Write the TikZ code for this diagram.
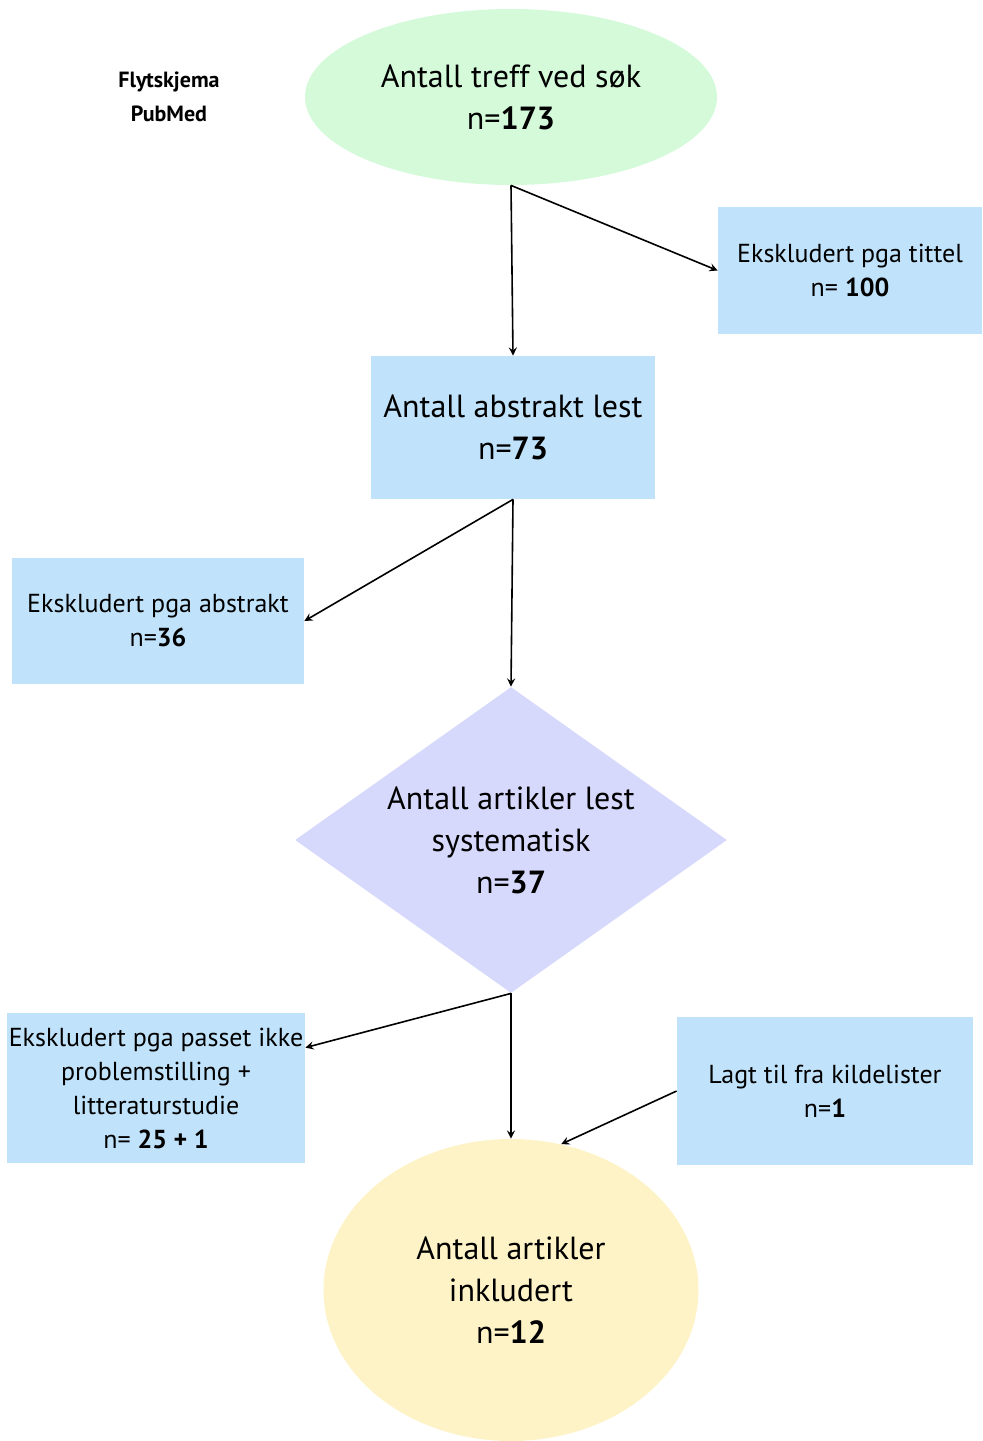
\documentclass[tikz,border=0pt]{standalone}
\usepackage{fontspec}
\setmainfont{PT Sans}
\usetikzlibrary{shapes.geometric,positioning,calc}
\definecolor{hitgreen}{HTML}{D4FAD9}
\definecolor{exblue}{HTML}{C0E3FB}
\definecolor{readviolet}{HTML}{D6D9FC}
\definecolor{inclyellow}{HTML}{FEF3C7}

\begin{document}
\begin{tikzpicture}[
    x=0.5pt, y=-0.5pt,
    big/.style={font=\fontsize{16}{21}\selectfont, align=center},
    small/.style={font=\fontsize{13}{17}\selectfont, align=center},
    exbox/.style={small, rectangle, fill=exblue, inner sep=0pt},
    arr/.style={-stealth, line width=0.8pt}
  ]
  \useasboundingbox (0,0) rectangle (982,1441);
  \node[font=\bfseries\fontsize{11}{17}\selectfont, align=center] (title) at (169,97) {Flytskjema\\PubMed};
  \node[big, ellipse, fill=hitgreen, minimum width=206pt, minimum height=88pt, inner sep=0pt] (hits) at (511,97) {Antall treff ved søk\\n=\textbf{173}};
  \node[exbox, minimum width=132pt, minimum height=63.5pt] (extitle) at (850,270.5) {Ekskludert pga tittel\\n= \textbf{100}};
  \node[big, rectangle, fill=exblue, minimum width=142pt, minimum height=71.5pt, inner sep=0pt] (abs) at (513,427.5) {Antall abstrakt lest\\n=\textbf{73}};
  \node[exbox, minimum width=146pt, minimum height=63pt] (exabs) at (158,621) {Ekskludert pga abstrakt\\n=\textbf{36}};
  \node[big, diamond, aspect=1.41, fill=readviolet, minimum width=216pt, minimum height=153pt, inner sep=0pt] (art) at (511,840) {Antall artikler lest\\systematisk\\n=\textbf{37}};
  \node[exbox, minimum width=149pt, minimum height=75pt] (exart) at (156,1088) {Ekskludert pga passet ikke\\problemstilling +\\litteraturstudie\\n= \textbf{25 + 1}};
  \node[exbox, minimum width=148pt, minimum height=74pt] (added) at (825,1091) {Lagt til fra kildelister\\n=\textbf{1}};
  \node[big, ellipse, fill=inclyellow, minimum width=187.5pt, minimum height=151pt, inner sep=0pt] (incl) at (511,1290) {Antall artikler\\inkludert\\n=\textbf{12}};

  % connectors
  \draw[arr] (hits.south) -- (abs.north);
  \draw[arr] (hits.south) -- (extitle.west);
  \draw[arr] (abs.south) -- (exabs.east);
  \draw[arr] (abs.south) -- (art.north);
  \draw[arr] (art.south) -- ($(exart.north east)+(0,35)$);
  \draw[arr] (art.south) -- (incl.north);
  \draw[arr] (added.west) -- (incl.71);
\end{tikzpicture}
\end{document}
